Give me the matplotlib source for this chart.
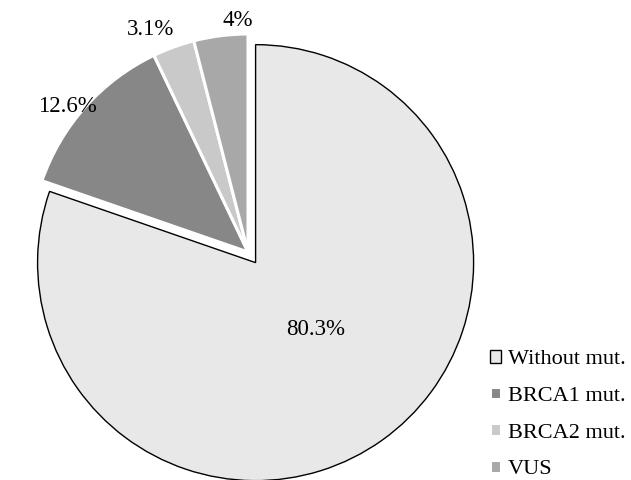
import matplotlib
matplotlib.use("Agg")
import matplotlib.pyplot as plt
import numpy as np

# mutation status shares (%)
groups = ["Without mut.", "BRCA1 mut.", "BRCA2 mut.", "VUS"]
shares = [80.3, 12.6, 3.1, 4.0]
labels = ["80.3%", "12.6%", "3.1%", "4%"]
colors = ["#e8e8e8", "#878787", "#c9c9c9", "#a8a8a8"]

plt.rcParams["font.family"] = ["Liberation Serif", "DejaVu Serif"]

W, H, DPI = 631, 480, 100
fig = plt.figure(figsize=(W / DPI, H / DPI), dpi=DPI)
ax = fig.add_axes([0, 0, 1, 1])

R = 218.0            # pie radius in pixels
cx, cy = 248.0, 228.0  # pie centre in pixels (from bottom-left)

wedges, _ = ax.pie(shares, colors=colors, startangle=90, counterclock=False,
                   explode=[0.06, 0, 0, 0], radius=1.0,
                   wedgeprops=dict(linewidth=2.2, edgecolor="white"))
wedges[0].set_edgecolor("black")
wedges[0].set_linewidth(1.0)

ax.set_xlim(-cx / R, (W - cx) / R)
ax.set_ylim(-cy / R, (H - cy) / R)
ax.set_aspect("equal")
ax.axis("off")

# percentage labels placed (angle deg, radius) around the pie
label_pos = [(-49, 0.47), (141.3, 1.064), (113.8, 1.113), (92.5, 1.065)]
for (ang, r), txt in zip(label_pos, labels):
    a = np.deg2rad(ang)
    ax.text(r * np.cos(a), r * np.sin(a), txt, ha="center", va="center",
            fontsize=16.5)

leg = ax.legend(wedges, groups, loc="lower left",
                bbox_to_anchor=(481 / W, -8 / H), frameon=False,
                fontsize=16, handlelength=0.5, handleheight=0.5,
                handletextpad=0.3, labelspacing=0.78, borderaxespad=0)

fig.savefig("out.png", dpi=DPI)
